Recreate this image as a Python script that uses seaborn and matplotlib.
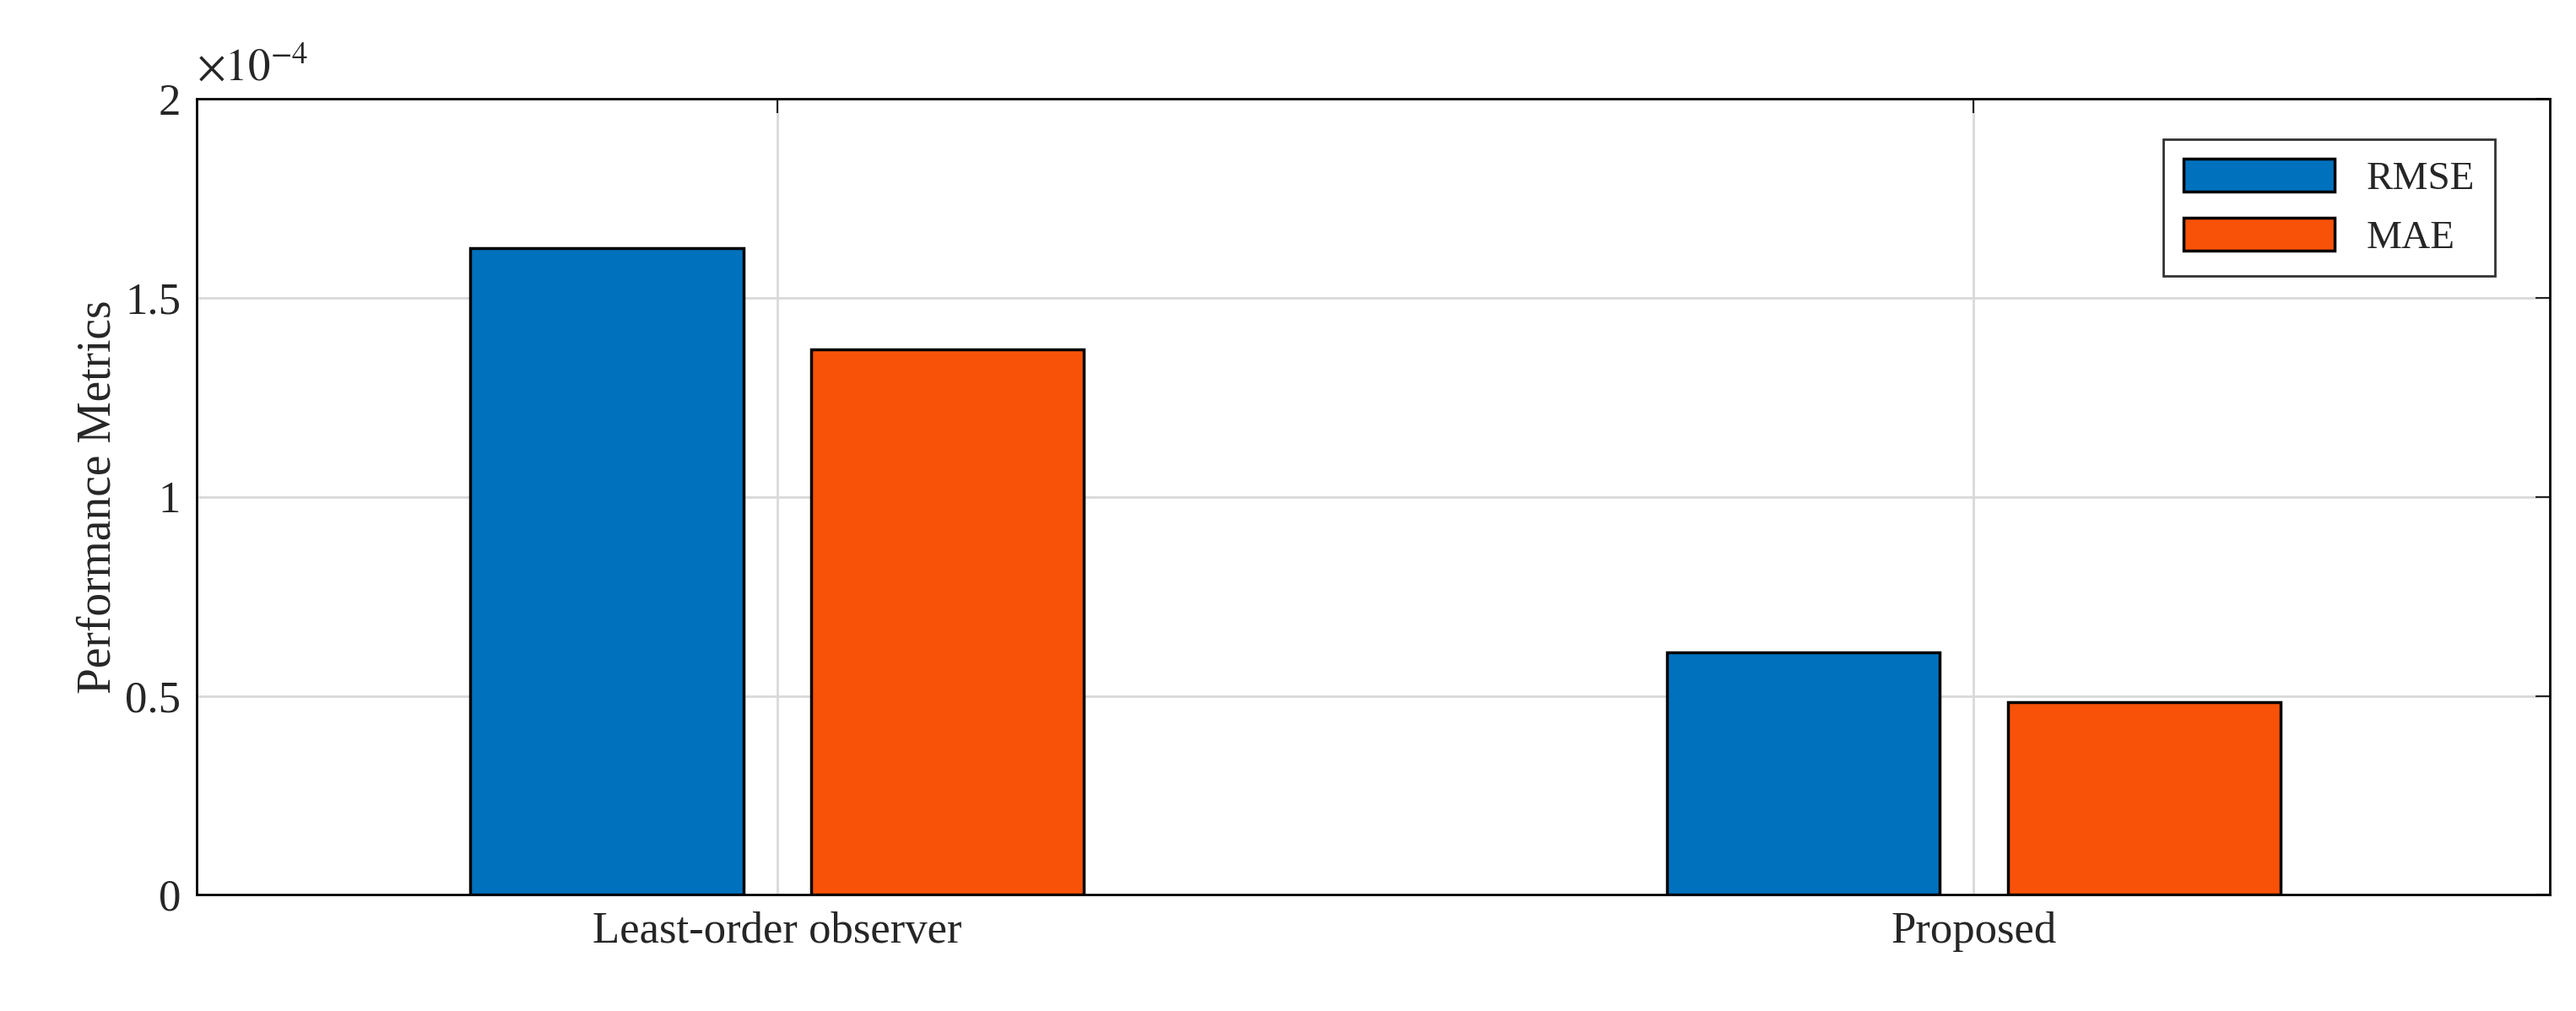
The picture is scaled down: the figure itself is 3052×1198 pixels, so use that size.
import numpy as np
import pandas as pd
import seaborn as sns
import matplotlib.pyplot as plt
from matplotlib.ticker import FuncFormatter

methods = ['Least-order observer', 'Proposed']
rmse = [1.625e-4, 0.61e-4]
mae = [1.37e-4, 0.485e-4]
scale = 1e-4

df = pd.DataFrame({
    'method': methods * 2,
    'metric': ['RMSE'] * 2 + ['MAE'] * 2,
    'value': np.array(rmse + mae) / scale,
})

sns.set_style('white')
plt.rcParams['font.family'] = ['Liberation Serif', 'DejaVu Serif']
plt.rcParams['mathtext.fontset'] = 'stix'

fig = plt.figure(figsize=(30.52, 11.98), dpi=100)
ax = fig.add_axes([0.0765, 0.115, 0.9135, 0.787])

sns.barplot(data=df, x='method', y='value', hue='metric', ax=ax,
            palette=['#0072BD', '#F85208'], width=0.57, gap=0.2,
            edgecolor='black', linewidth=2.5, saturation=1, zorder=3)

ax.set_xlim(-0.485, 1.482)
ax.set_ylim(0, 2)
ax.set_yticks([0, 0.5, 1, 1.5, 2])
ax.yaxis.set_major_formatter(FuncFormatter(lambda v, p: f'{v:g}'))
ax.set_xlabel('')
ax.set_ylabel('Performance Metrics', fontsize=40)
ax.tick_params(labelsize=38, direction='in', length=12, width=1.5,
               top=True, right=True, pad=14)
ax.grid(True, color='#d9d9d9', linewidth=2, zorder=0)
ax.set_axisbelow(True)
for s in ax.spines.values():
    s.set_linewidth(2)
    s.set_color('black')

ax.text(0.0, 1.012, r'$\times10^{-4}$', transform=ax.transAxes,
        fontsize=38, ha='left', va='bottom')

leg = ax.legend(loc='upper right', fontsize=34, frameon=True, fancybox=False,
                edgecolor='black', borderpad=0.5, handlelength=3.8,
                handleheight=0.9, bbox_to_anchor=(0.985, 0.975))
leg.get_frame().set_linewidth(2)
leg.set_title(None)

fig.savefig('out.png', dpi=100)
